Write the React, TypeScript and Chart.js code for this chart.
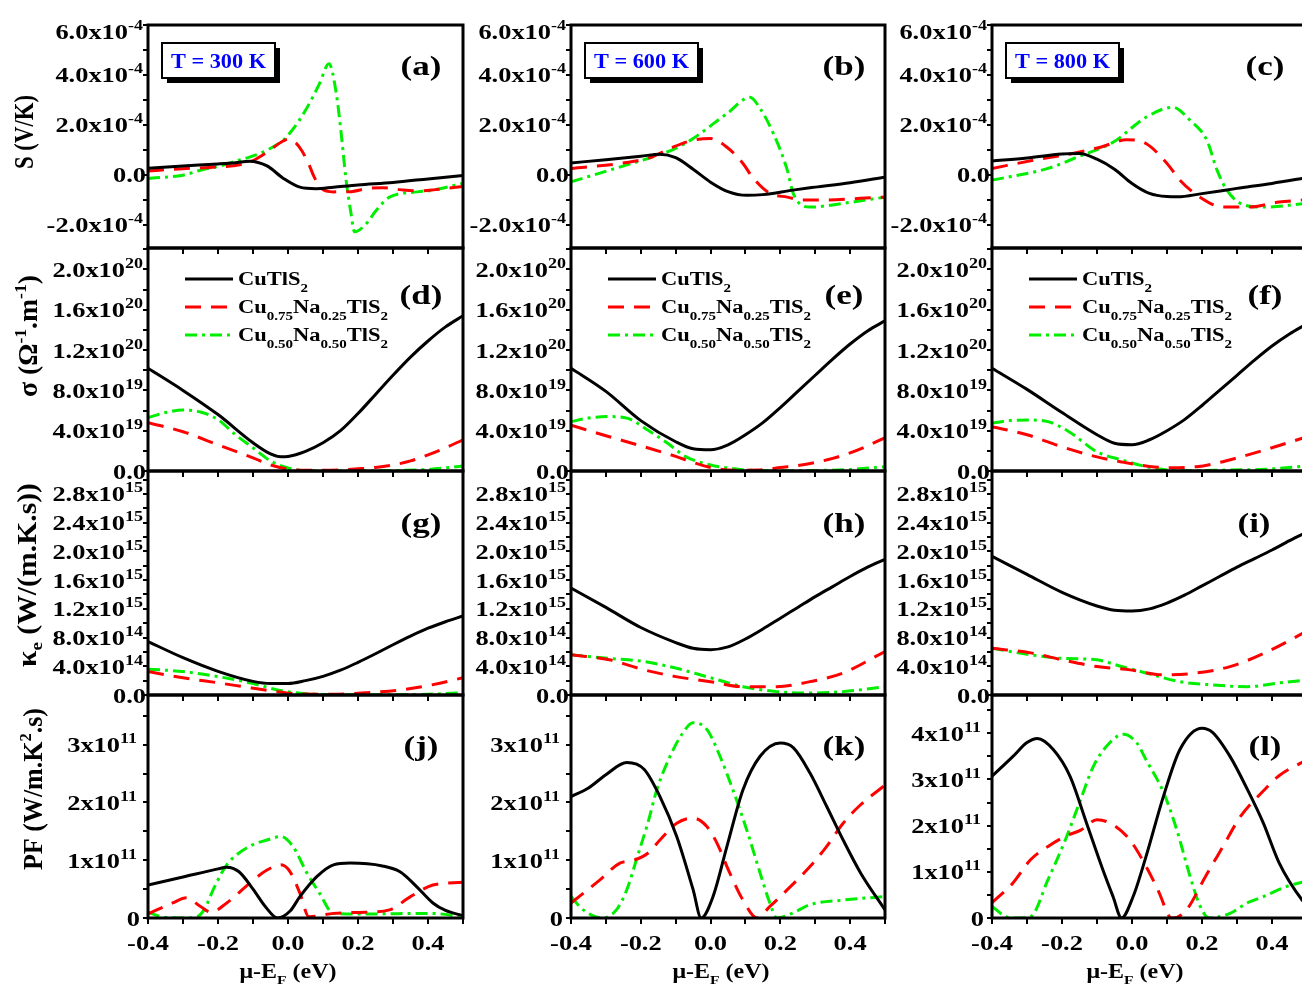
import React, { useEffect, useRef } from "react";
import { Chart, registerables } from "chart.js";

Chart.register(...registerables);

type Pt = [number, number];
type Run = { t: string; k?: "sup" | "sub" };

// ================= DATA =================
const X_MIN = -0.4;
const X_MAX = 0.5;
const X_MINOR = 0.1;
const X_TICK_VALUES = [-0.4, -0.2, 0, 0.2, 0.4];
const X_TICK_LABELS = ["-0.4", "-0.2", "0.0", "0.2", "0.4"];

const TEMPERATURE_LABELS = ["T = 300 K", "T = 600 K", "T = 800 K"];
const PANEL_LETTERS = ["(a)", "(b)", "(c)", "(d)", "(e)", "(f)", "(g)", "(h)", "(i)", "(j)", "(k)", "(l)"];

const LEGEND_RUNS: Run[][] = [
  [{ t: "CuTlS" }, { t: "2", k: "sub" }],
  [{ t: "Cu" }, { t: "0.75", k: "sub" }, { t: "Na" }, { t: "0.25", k: "sub" }, { t: "TlS" }, { t: "2", k: "sub" }],
  [{ t: "Cu" }, { t: "0.50", k: "sub" }, { t: "Na" }, { t: "0.50", k: "sub" }, { t: "TlS" }, { t: "2", k: "sub" }],
];

const Y_TITLE_RUNS: Run[][] = [
  [{ t: "S (V/K)" }],
  [{ t: "σ (Ω" }, { t: "-1", k: "sup" }, { t: ".m" }, { t: "-1", k: "sup" }, { t: ")" }],
  [{ t: "κ" }, { t: "e", k: "sub" }, { t: " (W/(m.K.s))" }],
  [{ t: "PF (W/m.K" }, { t: "2", k: "sup" }, { t: ".s)" }],
];
const X_TITLE_RUNS: Run[] = [{ t: "μ-E" }, { t: "F", k: "sub" }, { t: " (eV)" }];

// Seebeck coefficient S, units of 1e-4 V/K
const S_TICKS = [-2, 0, 2, 4, 6];
const S_TICK_LABELS: [string, string][] = [["-2.0x10", "-4"], ["0.0", ""], ["2.0x10", "-4"], ["4.0x10", "-4"], ["6.0x10", "-4"]];

const S300_CU: Pt[] = [[-0.4, 0.26], [-0.3, 0.35], [-0.2, 0.43], [-0.15, 0.48], [-0.11, 0.54], [-0.06, 0.35], [-0.013, -0.15], [0.034, -0.5], [0.08, -0.56], [0.13, -0.5], [0.2, -0.41], [0.3, -0.31], [0.4, -0.17], [0.5, -0.03]];
const S300_NA25: Pt[] = [[-0.4, 0.15], [-0.3, 0.24], [-0.2, 0.31], [-0.15, 0.37], [-0.11, 0.5], [-0.06, 0.9], [-0.02, 1.3], [0.0, 1.42], [0.02, 1.3], [0.04, 0.95], [0.06, 0.4], [0.075, -0.1], [0.095, -0.55], [0.13, -0.69], [0.18, -0.68], [0.225, -0.56], [0.27, -0.52], [0.32, -0.6], [0.37, -0.65], [0.42, -0.6], [0.5, -0.47]];
const S300_NA50: Pt[] = [[-0.4, -0.15], [-0.3, -0.02], [-0.25, 0.18], [-0.2, 0.33], [-0.157, 0.51], [-0.1, 0.75], [-0.06, 0.98], [-0.014, 1.38], [0.01, 1.75], [0.05, 2.58], [0.09, 3.65], [0.117, 4.45], [0.138, 3.25], [0.152, 1.65], [0.166, -0.22], [0.18, -1.55], [0.19, -2.29], [0.22, -2.02], [0.253, -1.42], [0.29, -0.9], [0.37, -0.69], [0.414, -0.62], [0.5, -0.35]];

const S600_CU: Pt[] = [[-0.4, 0.47], [-0.3, 0.6], [-0.2, 0.74], [-0.145, 0.82], [-0.1, 0.68], [-0.05, 0.22], [0.0, -0.3], [0.05, -0.68], [0.104, -0.83], [0.15, -0.8], [0.236, -0.62], [0.3, -0.5], [0.4, -0.32], [0.5, -0.1]];
const S600_NA25: Pt[] = [[-0.4, 0.25], [-0.26, 0.45], [-0.17, 0.7], [-0.108, 1.1], [-0.05, 1.38], [0.0, 1.45], [0.047, 1.1], [0.093, 0.45], [0.12, -0.1], [0.17, -0.75], [0.22, -0.9], [0.265, -1.02], [0.33, -1.02], [0.43, -0.95], [0.5, -0.9]];
const S600_NA50: Pt[] = [[-0.4, -0.29], [-0.29, 0.18], [-0.18, 0.65], [-0.1, 1.05], [-0.05, 1.45], [0.047, 2.45], [0.113, 3.1], [0.14, 2.7], [0.18, 1.65], [0.22, 0.18], [0.237, -0.75], [0.285, -1.3], [0.38, -1.15], [0.5, -0.9]];

const S800_CU: Pt[] = [[-0.4, 0.55], [-0.3, 0.67], [-0.2, 0.83], [-0.15, 0.85], [-0.1, 0.62], [-0.05, 0.22], [0.0, -0.35], [0.05, -0.75], [0.1, -0.88], [0.13, -0.89], [0.2, -0.76], [0.3, -0.55], [0.4, -0.35], [0.5, -0.12]];
const S800_NA25: Pt[] = [[-0.4, 0.25], [-0.28, 0.58], [-0.17, 0.85], [-0.09, 1.1], [-0.015, 1.4], [0.04, 1.25], [0.1, 0.45], [0.137, -0.22], [0.194, -0.9], [0.26, -1.3], [0.33, -1.3], [0.42, -1.1], [0.5, -1.0]];
const S800_NA50: Pt[] = [[-0.4, -0.22], [-0.24, 0.25], [-0.15, 0.74], [-0.054, 1.3], [0.04, 2.3], [0.117, 2.7], [0.166, 2.18], [0.214, 1.38], [0.243, 0.18], [0.271, -0.62], [0.31, -1.15], [0.375, -1.3], [0.5, -1.15]];

// Electrical conductivity sigma, units of 1e19 (Ohm.m)^-1
const SIG_TICKS = [0, 4, 8, 12, 16, 20];
const SIG_TICK_LABELS: [string, string][] = [["0.0", ""], ["4.0x10", "19"], ["8.0x10", "19"], ["1.2x10", "20"], ["1.6x10", "20"], ["2.0x10", "20"]];

const SIG300_CU: Pt[] = [[-0.4, 10.2], [-0.3, 8.0], [-0.2, 5.6], [-0.1, 2.8], [-0.05, 1.7], [-0.02, 1.42], [0.0, 1.45], [0.05, 1.95], [0.1, 2.8], [0.15, 4.0], [0.2, 5.7], [0.25, 7.6], [0.3, 9.5], [0.35, 11.3], [0.4, 12.9], [0.45, 14.3], [0.5, 15.4]];
const SIG300_NA25: Pt[] = [[-0.4, 4.8], [-0.3, 3.9], [-0.2, 2.6], [-0.1, 1.3], [-0.05, 0.6], [0.0, 0.2], [0.05, 0.08], [0.1, 0.08], [0.15, 0.12], [0.2, 0.22], [0.25, 0.35], [0.3, 0.6], [0.35, 1.0], [0.4, 1.6], [0.45, 2.3], [0.5, 3.1]];
const SIG300_NA50: Pt[] = [[-0.4, 5.3], [-0.35, 5.8], [-0.3, 6.05], [-0.25, 5.85], [-0.2, 5.1], [-0.15, 3.6], [-0.1, 2.3], [-0.05, 1.0], [0.0, 0.3], [0.05, 0.05], [0.1, 0.02], [0.2, 0.02], [0.3, 0.05], [0.4, 0.15], [0.5, 0.5]];

const SIG600_CU: Pt[] = [[-0.4, 10.2], [-0.3, 7.9], [-0.2, 5.0], [-0.1, 2.9], [-0.05, 2.2], [0.0, 2.1], [0.05, 2.6], [0.1, 3.6], [0.15, 4.8], [0.2, 6.3], [0.25, 7.9], [0.3, 9.5], [0.35, 11.1], [0.4, 12.6], [0.45, 13.9], [0.5, 14.9]];
const SIG600_NA25: Pt[] = [[-0.4, 4.55], [-0.3, 3.5], [-0.2, 2.5], [-0.1, 1.45], [-0.05, 0.85], [0.0, 0.35], [0.05, 0.1], [0.1, 0.08], [0.15, 0.12], [0.2, 0.35], [0.25, 0.55], [0.3, 0.85], [0.35, 1.25], [0.4, 1.8], [0.45, 2.5], [0.5, 3.3]];
const SIG600_NA50: Pt[] = [[-0.4, 4.9], [-0.35, 5.25], [-0.29, 5.4], [-0.24, 5.25], [-0.18, 4.07], [-0.125, 2.8], [-0.07, 1.4], [0.0, 0.6], [0.05, 0.3], [0.1, 0.1], [0.2, 0.03], [0.3, 0.05], [0.4, 0.15], [0.5, 0.43]];

const SIG800_CU: Pt[] = [[-0.4, 10.2], [-0.3, 8.1], [-0.2, 5.8], [-0.1, 3.6], [-0.05, 2.75], [0.0, 2.6], [0.05, 3.1], [0.1, 4.0], [0.15, 5.1], [0.2, 6.5], [0.25, 8.0], [0.3, 9.5], [0.35, 11.0], [0.4, 12.4], [0.45, 13.6], [0.5, 14.6]];
const SIG800_NA25: Pt[] = [[-0.4, 4.4], [-0.3, 3.6], [-0.2, 2.4], [-0.1, 1.4], [-0.03, 0.9], [0.05, 0.45], [0.1, 0.33], [0.185, 0.43], [0.25, 0.85], [0.3, 1.3], [0.38, 2.1], [0.5, 3.4]];
const SIG800_NA50: Pt[] = [[-0.4, 4.75], [-0.35, 5.0], [-0.29, 5.05], [-0.24, 4.9], [-0.18, 3.9], [-0.1, 1.9], [-0.03, 1.1], [0.04, 0.43], [0.1, 0.1], [0.15, 0.03], [0.28, 0.1], [0.38, 0.17], [0.5, 0.5]];

// Electronic thermal conductivity kappa_e, units of 1e14 W/(m.K.s)
const K_TICKS = [0, 4, 8, 12, 16, 20, 24, 28];
const K_TICK_LABELS: [string, string][] = [["0.0", ""], ["4.0x10", "14"], ["8.0x10", "14"], ["1.2x10", "15"], ["1.6x10", "15"], ["2.0x10", "15"], ["2.4x10", "15"], ["2.8x10", "15"]];

const K300_CU: Pt[] = [[-0.4, 7.45], [-0.3, 5.2], [-0.2, 3.3], [-0.1, 1.9], [-0.05, 1.6], [0.0, 1.6], [0.05, 2.0], [0.1, 2.6], [0.15, 3.45], [0.2, 4.55], [0.25, 5.75], [0.3, 7.0], [0.35, 8.2], [0.4, 9.3], [0.45, 10.2], [0.5, 11.0]];
const K300_NA25: Pt[] = [[-0.4, 3.26], [-0.3, 2.4], [-0.2, 1.7], [-0.1, 0.95], [-0.03, 0.47], [0.03, 0.14], [0.13, 0.1], [0.22, 0.3], [0.32, 0.7], [0.41, 1.4], [0.5, 2.4]];
const K300_NA50: Pt[] = [[-0.4, 3.6], [-0.3, 3.26], [-0.2, 2.56], [-0.1, 1.6], [-0.03, 0.7], [0.03, 0.28], [0.1, 0.08], [0.3, 0.05], [0.4, 0.1], [0.5, 0.33]];

const K600_CU: Pt[] = [[-0.4, 14.9], [-0.3, 12.2], [-0.2, 9.4], [-0.1, 7.3], [-0.05, 6.5], [0.0, 6.3], [0.05, 6.7], [0.1, 7.8], [0.15, 9.2], [0.2, 10.7], [0.25, 12.2], [0.3, 13.7], [0.35, 15.1], [0.4, 16.5], [0.45, 17.8], [0.5, 18.9]];
const K600_NA25: Pt[] = [[-0.4, 5.6], [-0.29, 4.9], [-0.19, 3.5], [-0.1, 2.56], [0.0, 1.86], [0.093, 1.16], [0.19, 1.16], [0.285, 1.86], [0.38, 3.07], [0.5, 6.06]];
const K600_NA50: Pt[] = [[-0.4, 5.6], [-0.29, 5.1], [-0.19, 4.66], [-0.1, 3.75], [0.0, 2.4], [0.093, 1.16], [0.19, 0.47], [0.285, 0.28], [0.38, 0.47], [0.5, 1.16]];

const K800_CU: Pt[] = [[-0.4, 19.3], [-0.3, 16.8], [-0.2, 14.3], [-0.1, 12.4], [-0.05, 11.8], [0.0, 11.7], [0.05, 12.0], [0.1, 12.8], [0.15, 13.9], [0.2, 15.2], [0.25, 16.5], [0.3, 17.8], [0.35, 19.0], [0.4, 20.2], [0.45, 21.5], [0.5, 22.7]];
const K800_NA25: Pt[] = [[-0.4, 6.5], [-0.29, 5.87], [-0.2, 4.9], [-0.1, 3.96], [-0.005, 3.5], [0.09, 2.8], [0.185, 3.07], [0.28, 3.96], [0.38, 5.87], [0.5, 8.9]];
const K800_NA50: Pt[] = [[-0.4, 6.5], [-0.29, 5.6], [-0.2, 5.1], [-0.1, 4.9], [-0.03, 3.96], [0.04, 3.07], [0.137, 1.86], [0.23, 1.4], [0.33, 1.16], [0.42, 1.68], [0.5, 2.1]];

// Power factor PF, units of 1e11 W/(m.K^2.s)
const PF_TICKS_LOW = [0, 1, 2, 3];
const PF_TICK_LABELS_LOW: [string, string][] = [["0", ""], ["1x10", "11"], ["2x10", "11"], ["3x10", "11"]];
const PF_TICKS_HIGH = [0, 1, 2, 3, 4];
const PF_TICK_LABELS_HIGH: [string, string][] = [["0", ""], ["1x10", "11"], ["2x10", "11"], ["3x10", "11"], ["4x10", "11"]];

const PF300_CU: Pt[] = [[-0.4, 0.57], [-0.3, 0.71], [-0.2, 0.85], [-0.175, 0.88], [-0.14, 0.8], [-0.1, 0.5], [-0.065, 0.2], [-0.03, 0.0], [0.006, 0.12], [0.034, 0.37], [0.083, 0.72], [0.13, 0.92], [0.177, 0.95], [0.27, 0.9], [0.32, 0.8], [0.368, 0.54], [0.414, 0.26], [0.45, 0.13], [0.5, 0.04]];
const PF300_NA25: Pt[] = [[-0.4, 0.07], [-0.33, 0.26], [-0.29, 0.35], [-0.25, 0.2], [-0.22, 0.1], [-0.175, 0.26], [-0.11, 0.6], [-0.06, 0.83], [-0.02, 0.92], [0.006, 0.8], [0.034, 0.43], [0.06, 0.02], [0.13, 0.08], [0.22, 0.1], [0.29, 0.14], [0.35, 0.37], [0.414, 0.57], [0.5, 0.62]];
const PF300_NA50: Pt[] = [[-0.4, 0.1], [-0.36, 0.02], [-0.3, 0.0], [-0.26, 0.02], [-0.24, 0.14], [-0.21, 0.54], [-0.175, 0.92], [-0.11, 1.24], [-0.06, 1.35], [-0.02, 1.41], [0.014, 1.24], [0.054, 0.78], [0.09, 0.43], [0.13, 0.08], [0.22, 0.07], [0.41, 0.08], [0.5, 0.02]];

const PF600_CU: Pt[] = [[-0.4, 2.1], [-0.35, 2.25], [-0.3, 2.48], [-0.24, 2.69], [-0.19, 2.57], [-0.145, 2.1], [-0.097, 1.41], [-0.05, 0.49], [-0.027, 0.0], [0.007, 0.37], [0.047, 1.24], [0.093, 2.22], [0.142, 2.8], [0.2, 3.03], [0.237, 2.95], [0.285, 2.51], [0.333, 1.93], [0.38, 1.35], [0.43, 0.78], [0.5, 0.14]];
const PF600_NA25: Pt[] = [[-0.4, 0.26], [-0.317, 0.66], [-0.26, 0.95], [-0.22, 1.0], [-0.18, 1.12], [-0.145, 1.35], [-0.097, 1.64], [-0.05, 1.73], [-0.01, 1.58], [0.018, 1.3], [0.055, 0.78], [0.093, 0.31], [0.133, 0.0], [0.17, 0.2], [0.22, 0.49], [0.285, 0.89], [0.333, 1.24], [0.38, 1.64], [0.43, 1.96], [0.5, 2.3]];
const PF600_NA50: Pt[] = [[-0.4, 0.37], [-0.365, 0.14], [-0.31, 0.0], [-0.27, 0.14], [-0.24, 0.49], [-0.21, 1.06], [-0.18, 1.64], [-0.154, 2.22], [-0.116, 2.8], [-0.08, 3.2], [-0.05, 3.38], [-0.01, 3.26], [0.027, 2.8], [0.064, 2.22], [0.104, 1.52], [0.142, 0.78], [0.17, 0.26], [0.19, 0.0], [0.237, 0.09], [0.285, 0.23], [0.38, 0.31], [0.5, 0.37]];

const PF800_CU: Pt[] = [[-0.4, 3.07], [-0.34, 3.5], [-0.3, 3.8], [-0.27, 3.89], [-0.225, 3.65], [-0.177, 3.07], [-0.13, 2.06], [-0.083, 1.04], [-0.054, 0.46], [-0.03, 0.0], [0.003, 0.46], [0.04, 1.33], [0.09, 2.64], [0.137, 3.65], [0.2, 4.11], [0.23, 4.02], [0.28, 3.5], [0.33, 2.78], [0.375, 2.06], [0.42, 1.2], [0.486, 0.39], [0.5, 0.28]];
const PF800_NA25: Pt[] = [[-0.4, 0.33], [-0.34, 0.76], [-0.29, 1.26], [-0.24, 1.55], [-0.19, 1.77], [-0.145, 1.91], [-0.1, 2.13], [-0.054, 2.02], [-0.007, 1.7], [0.04, 1.12], [0.078, 0.54], [0.107, 0.03], [0.117, 0.0], [0.155, 0.17], [0.21, 0.9], [0.26, 1.55], [0.31, 2.2], [0.375, 2.75], [0.42, 3.08], [0.486, 3.37], [0.5, 3.42]];
const PF800_NA50: Pt[] = [[-0.4, 0.25], [-0.36, 0.03], [-0.33, 0.0], [-0.29, 0.03], [-0.24, 0.83], [-0.19, 1.7], [-0.15, 2.5], [-0.11, 3.29], [-0.063, 3.8], [-0.025, 3.98], [0.013, 3.8], [0.04, 3.43], [0.09, 2.72], [0.128, 1.91], [0.166, 0.9], [0.195, 0.25], [0.22, 0.0], [0.28, 0.1], [0.33, 0.33], [0.375, 0.46], [0.44, 0.68], [0.5, 0.8]];

// ================= LAYOUT / STYLE =================
const ROW_TOP = [25, 248, 471, 695];
const ROW_BOTTOM = [248, 471, 695, 918];
const COL_LEFT = [148, 571, 992];
const COL_RIGHT = [463, 885, 1307];
const LEFT_W = 145;
const TOP_PAD = 22;
const RIGHT_PAD = 8;

const SERIES_STYLE = [
  { color: "#000000", dash: [] as number[] },
  { color: "#ff0000", dash: [16, 10] },
  { color: "#00ee00", dash: [12, 5, 3, 5] },
];

const SERIF = '"Liberation Serif", "Times New Roman", Times, serif';
const SX = 1.2;

interface PanelSpec {
  row: number;
  col: number;
  letter: string;
  series: Pt[][];
  yMin: number;
  yMax: number;
  yMinor: number;
  yTicks: number[];
  yLabels: [string, string][];
}

const ROW_SERIES: Pt[][][][] = [
  [[S300_CU, S300_NA25, S300_NA50], [S600_CU, S600_NA25, S600_NA50], [S800_CU, S800_NA25, S800_NA50]],
  [[SIG300_CU, SIG300_NA25, SIG300_NA50], [SIG600_CU, SIG600_NA25, SIG600_NA50], [SIG800_CU, SIG800_NA25, SIG800_NA50]],
  [[K300_CU, K300_NA25, K300_NA50], [K600_CU, K600_NA25, K600_NA50], [K800_CU, K800_NA25, K800_NA50]],
  [[PF300_CU, PF300_NA25, PF300_NA50], [PF600_CU, PF600_NA25, PF600_NA50], [PF800_CU, PF800_NA25, PF800_NA50]],
];
const Y_MIN = [-2.94, 0, 0, 0];
const Y_MAX = [[6, 6, 6], [22.13, 22.13, 22.13], [31.2, 31.2, 31.2], [3.86, 3.86, 4.83]];
const Y_MINOR = [1, 2, 2, 0.5];
const Y_TICKS = [[S_TICKS, S_TICKS, S_TICKS], [SIG_TICKS, SIG_TICKS, SIG_TICKS], [K_TICKS, K_TICKS, K_TICKS], [PF_TICKS_LOW, PF_TICKS_LOW, PF_TICKS_HIGH]];
const Y_LABELS = [
  [S_TICK_LABELS, S_TICK_LABELS, S_TICK_LABELS],
  [SIG_TICK_LABELS, SIG_TICK_LABELS, SIG_TICK_LABELS],
  [K_TICK_LABELS, K_TICK_LABELS, K_TICK_LABELS],
  [PF_TICK_LABELS_LOW, PF_TICK_LABELS_LOW, PF_TICK_LABELS_HIGH],
];

const PANELS: PanelSpec[] = [];
for (let r = 0; r < 4; r++) {
  for (let c = 0; c < 3; c++) {
    PANELS.push({
      row: r,
      col: c,
      letter: PANEL_LETTERS[r * 3 + c],
      series: ROW_SERIES[r][c],
      yMin: Y_MIN[r],
      yMax: Y_MAX[r][c],
      yMinor: Y_MINOR[r],
      yTicks: Y_TICKS[r][c],
      yLabels: Y_LABELS[r][c],
    });
  }
}

// page-coordinate anchors for decorations
const Y_TITLE_CENTER = [[24, 132], [28, 336], [27, 575], [33, 789]];
const Y_TITLE_LENGTH = [74, 122, 184, 162];
const LETTER_DY = [43, 49, 54, 53];
const X_TITLE_DX = [140, 150, 143];

// ================= DRAW HELPERS =================
interface Seg { t: string; size: number; dy: number }

function fontOf(size: number) {
  return `bold ${size}px ${SERIF}`;
}

function runsToSegs(runs: Run[], size: number, small: number, supDy: number, subDy: number): Seg[] {
  return runs.map((r) => ({
    t: r.t,
    size: r.k ? small : size,
    dy: r.k === "sup" ? supDy : r.k === "sub" ? subDy : 0,
  }));
}

function measureSegs(ctx: CanvasRenderingContext2D, segs: Seg[]) {
  let w = 0;
  for (const s of segs) {
    ctx.font = fontOf(s.size);
    w += ctx.measureText(s.t).width;
  }
  return w;
}

function drawSegs(
  ctx: CanvasRenderingContext2D,
  segs: Seg[],
  x: number,
  y: number,
  align: "left" | "center" | "right",
  sx: number,
  sy: number,
  color: string,
  rotate = false
) {
  ctx.save();
  ctx.translate(x, y);
  if (rotate) ctx.rotate(-Math.PI / 2);
  ctx.scale(sx, sy);
  const w = measureSegs(ctx, segs);
  let cx = align === "left" ? 0 : align === "center" ? -w / 2 : -w;
  ctx.fillStyle = color;
  ctx.textAlign = "left";
  ctx.textBaseline = "alphabetic";
  for (const s of segs) {
    ctx.font = fontOf(s.size);
    ctx.fillText(s.t, cx, s.dy);
    cx += ctx.measureText(s.t).width;
  }
  ctx.restore();
}

function makeDecorPlugin(p: PanelSpec, canvasLeft: number, canvasTop: number) {
  return {
    id: "decor",
    afterDraw(chart: any) {
      const ctx: CanvasRenderingContext2D = chart.ctx;
      const a = chart.chartArea;
      const ys = chart.scales.y;
      const xs = chart.scales.x;

      // frame
      ctx.save();
      ctx.strokeStyle = "#000";
      ctx.lineWidth = 3;
      ctx.setLineDash([]);
      ctx.strokeRect(a.left, a.top, a.right - a.left, a.bottom - a.top);
      ctx.restore();

      // y tick labels
      p.yTicks.forEach((v, i) => {
        let yy = ys.getPixelForValue(v);
        yy = Math.max(yy, a.top + 6);
        const [m, e] = p.yLabels[i];
        const segs: Seg[] = [{ t: m, size: 22, dy: 0 }];
        if (e) segs.push({ t: e, size: 15, dy: -9 });
        const gap = (p.row === 3 ? 11 : 5) - (e ? 0 : 3);
        drawSegs(ctx, segs, a.left - gap, yy + 7.5, "right", SX, 1, "#000");
      });

      // x tick labels + title (bottom row)
      if (p.row === 3) {
        X_TICK_VALUES.forEach((v, i) => {
          const xx = xs.getPixelForValue(v);
          drawSegs(ctx, [{ t: X_TICK_LABELS[i], size: 22, dy: 0 }], xx, a.bottom + 32, "center", SX, 1, "#000");
        });
        const segs = runsToSegs(X_TITLE_RUNS, 20, 13, -8, 6);
        drawSegs(ctx, segs, a.left + X_TITLE_DX[p.col], a.bottom + 60, "center", 1.2, 1, "#000");
      }

      // y title (left column)
      if (p.col === 0) {
        const segs = runsToSegs(Y_TITLE_RUNS[p.row], 22, 14, -9, 5);
        const w = measureSegs(ctx, segs);
        const along = Y_TITLE_LENGTH[p.row] / w;
        const [cxp, cyp] = Y_TITLE_CENTER[p.row];
        const cross = 1.2;
        drawSegs(ctx, segs, cxp - canvasLeft + 0.33 * 22 * cross, cyp - canvasTop, "center", along, cross, "#000", true);
      }

      // panel letter
      const letterDx = p.letter === "(i)" ? 262 : 273;
      drawSegs(ctx, [{ t: p.letter, size: 28, dy: 0 }], a.left + letterDx, a.top + LETTER_DY[p.row] + 7, "center", 1.25, 1, "#000");

      // temperature box (top row)
      if (p.row === 0) {
        const bx = a.left + 14;
        const by = a.top + 18;
        const bw = 113;
        const bh = 35;
        ctx.save();
        ctx.fillStyle = "#000";
        ctx.fillRect(bx + 5, by + 5, bw, bh);
        ctx.fillStyle = "#fff";
        ctx.fillRect(bx, by, bw, bh);
        ctx.strokeStyle = "#000";
        ctx.lineWidth = 2;
        ctx.strokeRect(bx, by, bw, bh);
        ctx.restore();
        const segs: Seg[] = [{ t: TEMPERATURE_LABELS[p.col], size: 22, dy: 0 }];
        const w = measureSegs(ctx, segs);
        drawSegs(ctx, segs, bx + bw / 2, by + bh / 2 + 7.5, "center", 95 / w, 1, "#0000ff");
      }

      // legend (second row)
      if (p.row === 1) {
        LEGEND_RUNS.forEach((runs, i) => {
          const ly = a.top + 31 + i * 28;
          const st = SERIES_STYLE[i];
          ctx.save();
          ctx.strokeStyle = st.color;
          ctx.lineWidth = 3;
          ctx.setLineDash(st.dash);
          ctx.beginPath();
          ctx.moveTo(a.left + 37, ly);
          ctx.lineTo(a.left + 85, ly);
          ctx.stroke();
          ctx.restore();
          const segs = runsToSegs(runs, 18, 12, -8, 7);
          drawSegs(ctx, segs, a.left + 90, ly + 6, "left", 1.25, 1, "#000");
        });
      }
    },
  };
}

function PanelChart({ p }: { p: PanelSpec }) {
  const ref = useRef<HTMLCanvasElement | null>(null);
  const L = COL_LEFT[p.col];
  const R = COL_RIGHT[p.col];
  const T = ROW_TOP[p.row];
  const B = ROW_BOTTOM[p.row];
  const bottomH = p.row === 3 ? 66 : 8;
  const left = L - LEFT_W;
  const top = T - TOP_PAD;
  const width = LEFT_W + (R - L) + RIGHT_PAD;
  const height = TOP_PAD + (B - T) + bottomH;

  useEffect(() => {
    const canvas = ref.current;
    if (!canvas) return;
    const chart = new Chart(canvas, {
      type: "line",
      data: {
        datasets: p.series.map((pts, i) => ({
          label: "s" + i,
          data: pts.map(([x, y]) => ({ x, y })),
          borderColor: SERIES_STYLE[i].color,
          borderDash: SERIES_STYLE[i].dash,
          borderWidth: 3,
          borderCapStyle: "butt" as const,
          pointRadius: 0,
          fill: false,
          tension: 0.4,
          cubicInterpolationMode: "monotone" as const,
        })),
      },
      options: {
        responsive: false,
        animation: false,
        events: [],
        layout: { padding: { top: TOP_PAD, right: RIGHT_PAD, bottom: 0, left: 0 } },
        plugins: { legend: { display: false }, tooltip: { enabled: false }, title: { display: false } },
        scales: {
          x: {
            type: "linear",
            min: X_MIN,
            max: X_MAX,
            ticks: { display: false, stepSize: X_MINOR, includeBounds: false, maxTicksLimit: 1000, font: { size: 4 } },
            grid: { drawOnChartArea: false, drawTicks: true, tickLength: 6, color: "#000", lineWidth: 2 },
            border: { display: false },
            afterFit: (s: any) => {
              s.height = bottomH;
            },
          },
          y: {
            type: "linear",
            min: p.yMin,
            max: p.yMax,
            ticks: { display: false, stepSize: p.yMinor, includeBounds: false, maxTicksLimit: 1000, font: { size: 4 } },
            grid: { drawOnChartArea: false, drawTicks: true, tickLength: 5, color: "#000", lineWidth: 2 },
            border: { display: false },
            afterFit: (s: any) => {
              s.width = LEFT_W;
            },
          },
        },
      } as any,
      plugins: [makeDecorPlugin(p, left, top)],
    });
    return () => chart.destroy();
  }, [p]);

  return (
    <canvas
      ref={ref}
      width={width}
      height={height}
      style={{ position: "absolute", left, top, width, height }}
    />
  );
}

export default function App() {
  return (
    <div
      style={{
        position: "fixed",
        left: 0,
        top: 0,
        width: 1302,
        height: 984,
        overflow: "hidden",
        background: "#fff",
      }}
    >
      {PANELS.map((p) => (
        <PanelChart key={p.letter} p={p} />
      ))}
    </div>
  );
}
